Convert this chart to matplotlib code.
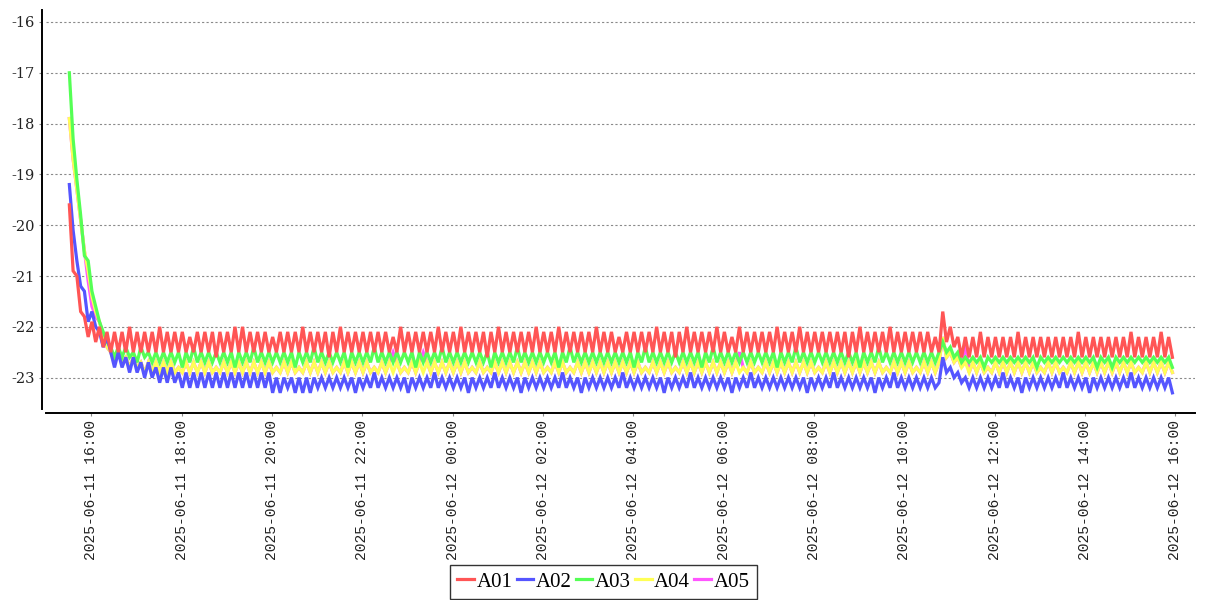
import numpy as np
import pandas as pd
import matplotlib
matplotlib.use("Agg")
import matplotlib.pyplot as plt
import matplotlib.dates as mdates

# --- Data: readings every 5 minutes, stored as tenths of a degree below zero ---
START = "2025-06-11 15:31"
STEP = "5min"

a01 = [196, 209, 210, 217, 218, 222, 219, 223, 220, 224,
       221, 225, 221, 225, 221, 225, 220, 225, 221, 225, 221, 225,
       221, 225, 220, 225, 221, 225, 221, 225, 221, 225, 222, 225,
       221, 225, 221, 225, 221, 226, 221, 225, 221, 225, 220, 225,
       220, 225, 221, 225, 221, 225, 221, 225, 222, 225, 221, 225,
       221, 225, 221, 225, 220, 225, 221, 225, 221, 225, 221, 226,
       221, 225, 220, 225, 221, 225, 221, 225, 221, 225, 221, 225,
       221, 225, 221, 225, 222, 225, 220, 225, 221, 225, 221, 225,
       221, 225, 221, 225, 220, 225, 221, 225, 221, 225, 220, 225,
       221, 225, 221, 225, 221, 226, 221, 225, 220, 225, 221, 225,
       221, 225, 221, 225, 221, 225, 220, 225, 221, 225, 221, 225,
       220, 225, 221, 225, 221, 225, 221, 225, 221, 225, 220, 225,
       221, 225, 221, 225, 222, 225, 221, 225, 221, 225, 221, 225,
       221, 225, 220, 225, 221, 225, 221, 226, 221, 225, 220, 225,
       221, 225, 221, 225, 221, 225, 220, 225, 221, 225, 222, 225,
       220, 225, 221, 225, 221, 225, 221, 225, 221, 225, 220, 225,
       221, 225, 221, 225, 220, 225, 221, 225, 221, 225, 221, 225,
       221, 225, 221, 225, 221, 226, 221, 225, 220, 225, 221, 225,
       221, 225, 221, 225, 220, 225, 221, 225, 221, 225, 221, 225,
       221, 225, 221, 225, 222, 225,
       217, 223, 220, 224, 222, 226,
       222, 226, 222, 226, 221, 226, 222, 226, 222, 226, 222, 226,
       222, 226, 221, 226, 222, 226, 222, 226, 222, 226, 222, 226,
       222, 226, 222, 226, 222, 226, 221, 226, 222, 226, 222, 226,
       222, 226, 222, 226, 222, 226, 222, 226, 221, 226, 222, 226,
       222, 226, 222, 226, 221, 226, 222, 226]

a02 = [192, 201, 207, 212, 213, 219, 217, 220, 221, 224, 222, 225,
       228, 225, 228, 226, 229, 226, 229, 227, 230, 227, 230, 228,
       231, 228, 231, 228, 231, 229, 232, 229, 232, 229, 232, 229,
       232, 229, 232, 229, 232, 229, 232, 229, 232, 229, 232, 229,
       232, 229, 232, 229, 232, 229, 233, 230, 233, 230, 232, 230,
       233, 230, 233, 230, 233, 230, 232, 230, 232, 230, 232, 230,
       232, 230, 232, 230, 233, 230, 232, 230, 232, 229, 232, 230,
       232, 230, 232, 230, 232, 230, 233, 230, 232, 230, 232, 230,
       232, 229, 232, 230, 232, 230, 232, 230, 232, 230, 233, 230,
       232, 230, 232, 230, 232, 229, 232, 230, 232, 230, 232, 230,
       233, 230, 232, 230, 232, 230, 232, 230, 232, 230, 232, 229,
       232, 230, 232, 230, 233, 230, 232, 230, 232, 230, 232, 230,
       232, 230, 232, 229, 232, 230, 232, 230, 232, 230, 232, 230,
       232, 230, 233, 230, 232, 230, 232, 230, 232, 229, 232, 230,
       232, 230, 232, 230, 232, 230, 232, 230, 233, 230, 232, 230,
       232, 229, 232, 230, 232, 230, 232, 230, 232, 230, 232, 230,
       232, 230, 232, 230, 233, 230, 232, 230, 232, 230, 232, 229,
       232, 230, 232, 230, 232, 230, 232, 230, 232, 230, 233, 230,
       232, 230, 232, 229, 232, 230, 232, 230, 232, 230, 232, 230,
       232, 230, 232, 231,
       226, 229, 228, 230, 229, 231, 230, 232, 230, 232, 230, 232,
       230, 232, 230, 232, 229, 232, 230, 232, 230, 233, 230, 232,
       230, 232, 230, 232, 230, 232, 230, 232, 229, 232, 230, 232,
       230, 232, 230, 233, 230, 232, 230, 232, 230, 232, 230, 232,
       230, 232, 229, 232, 230, 232, 230, 232, 230, 232, 230, 232, 230, 233]

a03 = [170, 183, 191, 198, 206, 207, 213, 216, 219, 221, 223, 224, 226,
       224, 226, 224, 226, 225, 227, 224, 226, 225, 227, 225, 227,
       225, 227, 225, 227, 225, 228, 225, 227, 224, 227, 225, 227,
       225, 227, 225, 227, 225, 227, 225, 228, 225, 227, 225, 227,
       224, 227, 225, 227, 225, 227, 225, 227, 225, 227, 225, 228,
       225, 227, 225, 227, 224, 227, 225, 227, 225, 227, 225, 227,
       225, 228, 225, 227, 225, 227, 225, 227, 224, 227, 225, 227,
       225, 227, 225, 227, 225, 227, 225, 228, 225, 227, 225, 227,
       225, 227, 224, 227, 225, 227, 225, 227, 225, 227, 225, 227,
       225, 227, 225, 228, 225, 227, 225, 227, 225, 227, 224, 227,
       225, 227, 225, 227, 225, 227, 225, 227, 225, 228, 225, 227,
       224, 227, 225, 227, 225, 227, 225, 227, 225, 227, 225, 227,
       225, 227, 225, 227, 225, 228, 225, 227, 224, 227, 225, 227,
       225, 227, 225, 227, 225, 227, 225, 227, 225, 227, 225, 228,
       225, 227, 224, 227, 225, 227, 225, 227, 225, 227, 225, 227,
       225, 227, 225, 227, 225, 227, 225, 228, 225, 227, 225, 227,
       224, 227, 225, 227, 225, 227, 225, 227, 225, 227, 225, 227,
       225, 227, 225, 227, 225, 228, 225, 227, 225, 227, 224, 227,
       225, 227, 225, 227, 225, 227, 225, 227, 225, 227, 225, 227,
       225, 227, 225,
       223, 225, 224, 226, 225, 227,
       226, 227, 226, 227, 226, 228, 226, 227, 226, 227, 226, 227,
       226, 227, 226, 227, 226, 227, 226, 228, 226, 227, 226, 227,
       226, 227, 226, 227, 226, 227, 226, 227, 226, 227, 226, 228,
       226, 227, 226, 228, 226, 227, 226, 227, 226, 227, 226, 227,
       226, 227, 226, 227, 226, 227, 226, 228]

a04 = [179, 187, 193, 199, 205, 209, 214, 217, 219, 222, 224, 225, 227,
       225, 227, 226, 228, 226, 228, 227, 229, 227, 229, 227, 229,
       227, 229, 227, 229, 228, 229, 227, 229, 227, 229, 227, 229,
       227, 229, 228, 229, 227, 229, 227, 229, 227, 229, 227, 229,
       227, 229, 227, 229, 227, 229, 228, 229, 227, 229, 227, 229,
       228, 229, 227, 229, 227, 229, 227, 229, 227, 229, 228, 229,
       227, 229, 227, 229, 227, 229, 227, 229, 228, 229, 227, 229,
       227, 229, 227, 229, 228, 229, 227, 229, 227, 229, 227, 229,
       227, 229, 227, 229, 227, 229, 227, 229, 227, 229, 228, 229,
       227, 229, 228, 229, 227, 229, 227, 229, 227, 229, 227, 229,
       227, 229, 227, 229, 227, 229, 228, 229, 227, 229, 227, 229,
       228, 229, 227, 229, 227, 229, 227, 229, 227, 229, 227, 229,
       227, 229, 227, 229, 227, 229, 227, 229, 228, 229, 227, 229,
       227, 229, 227, 229, 228, 229, 227, 229, 227, 229, 227, 229,
       227, 229, 227, 229, 227, 229, 227, 229, 227, 229, 228, 229,
       227, 229, 228, 229, 227, 229, 227, 229, 227, 229, 227, 229,
       227, 229, 227, 229, 227, 229, 228, 229, 227, 229, 227, 229,
       227, 229, 227, 229, 227, 229, 227, 229, 227, 229, 227, 229,
       228, 229, 227, 229, 227, 229, 227, 229, 228, 229, 227, 229,
       227, 229, 227,
       222, 226, 225, 227, 226, 228,
       227, 229, 227, 229, 227, 229, 228, 229, 227, 229, 227, 229,
       227, 229, 227, 229, 227, 229, 227, 229, 228, 229, 227, 229,
       227, 229, 228, 229, 227, 229, 227, 229, 227, 229, 227, 229,
       227, 229, 227, 229, 227, 229, 227, 229, 227, 229, 228, 229,
       227, 229, 227, 229, 227, 229, 227, 229]

a05 = [179, 187, 193, 199, 205, 211, 216, 218, 219, 222, 224, 225, 227,
       225, 227, 226, 228, 226, 228, 227, 229, 227, 229, 227, 229,
       227, 229, 227, 229, 228, 229, 227, 229, 227, 229, 227, 229,
       227, 229, 228, 229, 227, 229, 227, 229, 227, 229, 227, 229,
       227, 229, 227, 229, 227, 229, 228, 229, 227, 229, 227, 229,
       228, 229, 227, 229, 227, 229, 227, 229, 227, 229, 228, 229,
       227, 229, 227, 229, 227, 229, 227, 229, 228, 229, 227, 229,
       227, 225, 227, 229, 228, 229, 227, 229, 227, 225, 227, 229,
       227, 229, 227, 229, 227, 229, 227, 229, 227, 229, 228, 229,
       227, 229, 228, 229, 227, 229, 227, 229, 227, 229, 227, 229,
       227, 229, 227, 229, 227, 229, 228, 229, 227, 229, 227, 229,
       228, 229, 227, 229, 227, 229, 227, 229, 227, 229, 227, 229,
       227, 229, 227, 229, 227, 229, 227, 229, 228, 229, 227, 229,
       227, 229, 227, 229, 228, 229, 227, 229, 227, 229, 227, 229,
       227, 229, 227, 229, 227, 229, 227, 229, 227, 225, 228, 229,
       227, 229, 228, 229, 227, 229, 227, 229, 227, 229, 227, 229,
       227, 229, 227, 229, 227, 229, 228, 229, 227, 229, 227, 229,
       227, 229, 227, 229, 227, 229, 227, 229, 227, 229, 227, 229,
       228, 229, 227, 229, 227, 229, 227, 229, 228, 229, 227, 229,
       227, 229, 227,
       222, 226, 225, 227, 226, 228,
       223, 229, 227, 229, 227, 229, 228, 229, 227, 229, 227, 229,
       227, 229, 227, 229, 227, 229, 227, 229, 228, 229, 227, 229,
       227, 229, 228, 229, 227, 229, 227, 229, 227, 229, 227, 229,
       227, 229, 227, 229, 227, 229, 227, 229, 227, 229, 228, 229,
       227, 229, 227, 229, 227, 229, 227, 229]

SERIES = [("A01", a01, "#FF5555"),
          ("A02", a02, "#5555FF"),
          ("A03", a03, "#55FF55"),
          ("A04", a04, "#FFFF55"),
          ("A05", a05, "#FF55FF")]

Y_TICKS = [-16, -17, -18, -19, -20, -21, -22, -23]


def main():
    plt.rcParams['axes.unicode_minus'] = False
    times = pd.date_range(START, periods=len(a01), freq=STEP)

    fig = plt.figure(figsize=(12.07, 6.0), dpi=100)
    ax = fig.add_axes([46 / 1207, 191 / 600, 1149 / 1207, 399 / 600])

    n = len(SERIES)
    for i, (name, vals, color) in enumerate(SERIES):
        # first series ends up on top, like the original renderer
        ax.plot(times, np.array(vals) / -10.0, color=color, lw=2.3,
                label=name, zorder=10 + n - i, solid_joinstyle='miter')

    # --- Axis styling ---
    ax.set_xlim(pd.Timestamp("2025-06-11 15:00"), pd.Timestamp("2025-06-12 16:26"))
    ax.set_ylim(-23.618, -15.764)
    ax.set_yticks(Y_TICKS)
    ax.yaxis.grid(True, color='#8a8a8a', linestyle=(0, (2, 2)), linewidth=0.8)
    ax.xaxis.grid(False)

    ax.xaxis.set_major_locator(mdates.HourLocator(byhour=range(0, 24, 2)))
    ax.xaxis.set_major_formatter(mdates.DateFormatter('%Y-%m-%d %H:%M'))
    ax.tick_params(axis='x', labelrotation=90, labelsize=10.5,
                   labelfontfamily='Liberation Mono')
    ax.tick_params(axis='y', labelsize=10.5, labelfontfamily='DejaVu Serif')

    ax.spines['top'].set_visible(False)
    ax.spines['right'].set_visible(False)
    for side in ('left', 'bottom'):
        ax.spines[side].set_position(('outward', 3))
        ax.spines[side].set_linewidth(1.4)
    ax.tick_params(axis='both', length=2, width=0.8, color='#888888', pad=3, labelcolor='#222222')

    leg = fig.legend(loc='lower center', bbox_to_anchor=(0.5, 0.002), ncol=5,
                     frameon=True, fancybox=False, handlelength=0.8,
                     handletextpad=0.12, columnspacing=0.2, borderpad=0.35,
                     borderaxespad=0.0,
                     prop={'family': 'Liberation Serif', 'size': 15})
    leg.get_frame().set_edgecolor('black')
    leg.get_frame().set_linewidth(1.0)

    fig.savefig("out.png", dpi=100)


if __name__ == "__main__":
    main()
